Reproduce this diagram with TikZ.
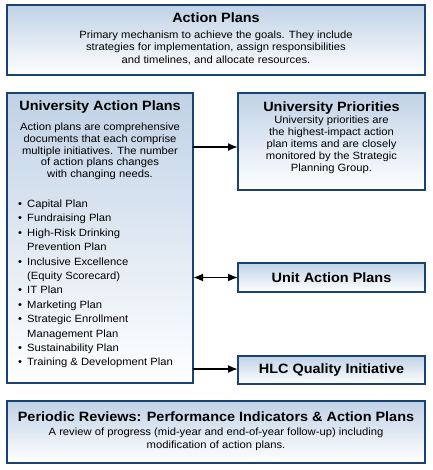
\documentclass[tikz,border=0pt]{standalone}
\usepackage{fontspec}
\setmainfont{Liberation Sans}[FakeStretch=1.07]
\usetikzlibrary{arrows.meta}
\definecolor{navy}{HTML}{1B4372}
\definecolor{topblue}{HTML}{C0D2E6}
\newcommand{\bul}{\makebox[9pt][l]{\textbullet}}
\newcommand{\ind}{\hspace*{9pt}}
\tikzset{
  box/.style={draw=navy, line width=2.2pt, top color=topblue, bottom color=white, inner sep=0pt, outer sep=0pt},
  ttl/.style={font={\bfseries\fontsize{13.5}{15}\selectfont}, inner sep=0pt},
  bdy/.style={font={\fontsize{10.5}{12.5}\selectfont}, align=center, inner sep=0pt},
  arr/.style={line width=1.8pt, -{Latex[length=10pt,width=8pt]}},
  darr/.style={line width=1.8pt, {Latex[length=10pt,width=8pt]}-{Latex[length=10pt,width=8pt]}}
}
\begin{document}
\begin{tikzpicture}[x=1pt,y=-1pt]
\useasboundingbox[fill=white] (0,0) rectangle (432,470);
% boxes
\node[box, minimum width=418pt, minimum height=70pt] (top) at (216,40) {};
\node[box, minimum width=186pt, minimum height=290pt] (uap) at (100,238) {};
\node[box, minimum width=187pt, minimum height=97pt] (up) at (331.5,141.5) {};
\node[box, minimum width=187pt, minimum height=29pt] (unit) at (331.5,277.5) {};
\node[box, minimum width=187pt, minimum height=28pt] (hlc) at (331.5,370) {};
\node[box, minimum width=418pt, minimum height=62pt] (bot) at (216,432) {};
% texts
\node[ttl] (topt) at (216,18) {Action Plans};
\node[bdy, font={\fontsize{10.5}{12.5}\selectfont}] (topb) at (216,47.5) {Primary mechanism to achieve the goals. They include\\strategies for implementation, assign responsibilities\\and timelines, and allocate resources.};
\node[ttl] (uapt) at (100,107) {University Action Plans};
\node[bdy, font={\fontsize{10.5}{11.75}\selectfont}] (uapb) at (100,151.5) {Action plans are comprehensive\\documents that each comprise\\multiple initiatives. The number\\of action plans changes\\with changing needs.};
\node[bdy, align=left, anchor=west, font={\fontsize{10.5}{14.4}\selectfont}] (list) at (18,284) {\bul Capital Plan\\\bul Fundraising Plan\\\bul High-Risk Drinking\\\ind Prevention Plan\\\bul Inclusive Excellence\\\ind (Equity Scorecard)\\\bul IT Plan\\\bul Marketing Plan\\\bul Strategic Enrollment\\\ind Management Plan\\\bul Sustainability Plan\\\bul Training \& Development Plan};
\node[ttl] (upt) at (331.5,108) {University Priorities};
\node[bdy, font={\fontsize{10.5}{11.9}\selectfont}] (upb) at (331.5,145) {University priorities are\\the highest-impact action\\plan items and are closely\\monitored by the Strategic\\Planning Group.};
\node[ttl] (unitt) at (331.5,277.5) {Unit Action Plans};
\node[ttl] (hlct) at (331.5,370) {HLC Quality Initiative};
\node[ttl] (bott) at (216,417) {Periodic Reviews: Performance Indicators \& Action Plans};
\node[bdy, font={\fontsize{10.5}{13}\selectfont}] (botb) at (216,439.5) {A review of progress (mid-year and end-of-year follow-up) including\\modification of action plans.};
% connectors
\coordinate (a1) at (0,147);
\coordinate (a3) at (0,369);
\draw[arr] (uap.east |- a1) -- (up.west |- a1);
\draw[darr] (uap.east |- unit.west) -- (unit.west);
\draw[arr] (uap.east |- a3) -- (hlc.west |- a3);
\end{tikzpicture}
\end{document}
